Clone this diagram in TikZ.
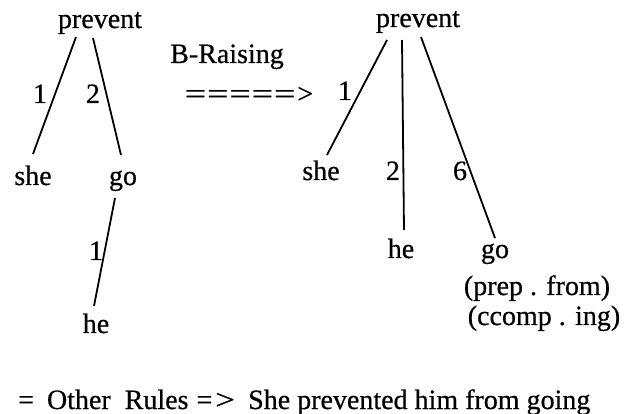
\documentclass[tikz,border=0pt]{standalone}
\usepackage{fontspec}
\setmainfont{Liberation Serif}
\newfontfamily\heavyserif{Liberation Serif}[FakeBold=0.6]
\usetikzlibrary{calc}
\begin{document}
\begin{tikzpicture}[x=1pt,y=-1pt,
  word/.style={inner sep=0pt, anchor=base, font=\heavyserif\fontsize{28}{32}\selectfont},
  edge/.style={line width=1.8pt}]
\useasboundingbox (0,0) rectangle (627,414);
% left tree
\node[word] (pL) at (100,28) {prevent};
\node[word] (sheL) at (33,185) {she};
\node[word] (goL) at (123,185) {go};
\node[word] (heL) at (96,333) {he};
\node[word] (l1a) at (40,103) {1};
\node[word] (l2a) at (93,103) {2};
\node[word] (l1b) at (96,260) {1};
\draw[edge] ($(pL.base)+(-24,9)$) -- ($(sheL.base)+(0,-31)$);
\draw[edge] ($(pL.base)+(-7,10)$) -- ($(goL.base)+(-2,-30)$);
\draw[edge] ($(goL.base)+(-8,13)$) -- ($(heL.base)+(-2,-27)$);
% transformation
\node[word] (rule) at (227,63) {B-Raising};
\node[word] (arr) at (249,103) {\scalebox{1.35}[1]{=}\kern1pt\scalebox{1.35}[1]{=}\kern1pt\scalebox{1.35}[1]{=}\kern1pt\scalebox{1.35}[1]{=}\kern1pt\scalebox{1.35}[1]{=}\kern2pt>};
% right tree
\node[word] (pR) at (418,27) {prevent};
\node[word] (sheR) at (321,180) {she};
\node[word] (heR) at (401,258) {he};
\node[word] (goR) at (495,258) {go};
\node[word] (prep) at (537,295) {(prep . from)};
\node[word] (ccomp) at (544,325) {(ccomp . ing)};
\node[word] (r1) at (345,100) {1};
\node[word] (r2) at (393,180) {2};
\node[word] (r6) at (460,180) {6};
\draw[edge] ($(pR.base)+(-31,13)$) -- ($(sheR.base)+(6,-25)$);
\draw[edge] ($(pR.base)+(-16,13)$) -- ($(heR.base)+(3,-28)$);
\draw[edge] ($(pR.base)+(3,10)$) -- ($(goR.base)+(0,-20)$);
% bottom line
\node[word, anchor=base west] (other) at (18,409) {=\hspace{13pt}Other\hspace{14pt}Rules\hspace{8pt}=\kern3pt\scalebox{1.25}[1]{>}};
\node[word, anchor=base west] (result) at (248,409) {She prevented him from going};
\end{tikzpicture}
\end{document}
